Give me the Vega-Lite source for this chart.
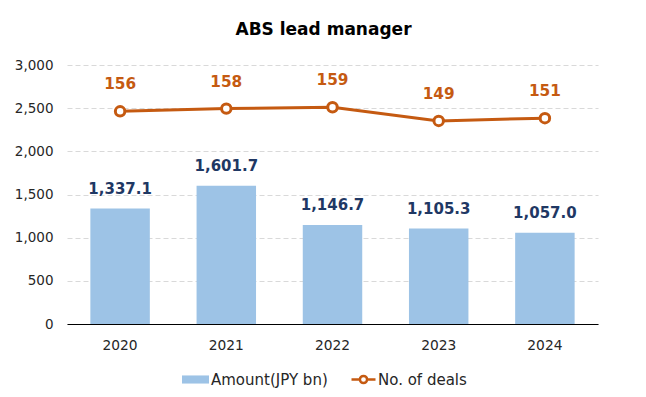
{
  "$schema": "https://vega.github.io/schema/vega-lite/v6.json",
  "width": 531,
  "height": 259,
  "autosize": "none",
  "padding": {"left": 67, "top": 65, "right": 48, "bottom": 73},
  "background": "white",
  "title": {"text": "ABS lead manager", "fontSize": 17, "fontWeight": "bold", "font": "DejaVu Sans", "color": "#000000", "offset": 19, "dx": -9},
  "config": {
    "view": {"stroke": null},
    "font": "DejaVu Sans"
  },
  "data": {
    "values": [
      {"year": "2020", "amount": 1337.1, "deals": 156},
      {"year": "2021", "amount": 1601.7, "deals": 158},
      {"year": "2022", "amount": 1146.7, "deals": 159},
      {"year": "2023", "amount": 1105.3, "deals": 149},
      {"year": "2024", "amount": 1057.0, "deals": 151}
    ]
  },
  "encoding": {
    "x": {
      "field": "year", "type": "ordinal",
      "scale": {"paddingInner": 0.44, "paddingOuter": 0.22},
      "axis": {"title": null, "labelAngle": 0, "ticks": false, "domainColor": "#000000", "domainWidth": 1.2, "labelFontSize": 13.8, "labelColor": "#262626", "labelPadding": 14, "grid": false}
    }
  },
  "layer": [
    {
      "layer": [
        {
          "mark": {"type": "bar", "color": "#9DC3E6"},
          "encoding": {
            "y": {"field": "amount", "type": "quantitative", "scale": {"domain": [0, 3000]},
              "axis": {"title": null, "values": [0, 500, 1000, 1500, 2000, 2500, 3000], "labelOverlap": false, "format": ",d", "domain": false, "ticks": false, "labelPadding": 14, "labelFontSize": 13.5, "labelColor": "#262626", "gridColor": "#D9D9D9", "gridDash": [5, 3], "gridWidth": 1}},
            "fill": {"datum": "Amount(JPY bn)", "type": "nominal", "scale": {"range": ["#9DC3E6"]},
              "legend": {"title": null, "orient": "none", "legendX": 115, "legendY": 301, "symbolType": "M-1,-0.3L1,-0.3L1,0.3L-1,0.3Z", "symbolSize": 729, "symbolStrokeWidth": 0, "labelFontSize": 15, "labelColor": "#262626", "labelOffset": 2}}
          }
        },
        {
          "mark": {"type": "text", "baseline": "bottom", "dy": -12, "fontSize": 15, "fontWeight": "bold", "color": "#1F3864"},
          "encoding": {
            "y": {"field": "amount", "type": "quantitative", "scale": {"domain": [0, 3000]},
              "axis": {"title": null, "values": [0, 500, 1000, 1500, 2000, 2500, 3000], "labelOverlap": false, "format": ",d", "domain": false, "ticks": false, "labelPadding": 14, "labelFontSize": 13.5, "labelColor": "#262626", "gridColor": "#D9D9D9", "gridDash": [5, 3], "gridWidth": 1}},
            "text": {"field": "amount", "type": "quantitative", "format": ",.1f"}
          }
        }
      ]
    },
    {
      "layer": [
        {
          "mark": {"type": "line", "color": "#C55A11", "strokeWidth": 3},
          "encoding": {
            "y": {"field": "deals", "type": "quantitative", "scale": {"domain": [0, 190]}, "axis": null},
            "stroke": {"datum": "No. of deals", "type": "nominal", "scale": {"range": ["#C55A11"]},
              "legend": {"title": null, "orient": "none", "legendX": 283, "legendY": 301, "symbolType": "M-1,0L-0.3,0M0.3,0L1,0M-0.3,0A0.3,0.3 0 1,1 0.3,0A0.3,0.3 0 1,1 -0.3,0", "symbolSize": 576, "symbolStrokeWidth": 2.5, "symbolFillColor": "white", "labelFontSize": 15, "labelColor": "#262626", "labelOffset": 1}}
          }
        },
        {
          "mark": {"type": "point", "shape": "circle", "filled": true, "fill": "white", "stroke": "#C55A11", "strokeWidth": 3, "size": 90, "opacity": 1},
          "encoding": {
            "y": {"field": "deals", "type": "quantitative", "scale": {"domain": [0, 190]}, "axis": null}
          }
        },
        {
          "mark": {"type": "text", "baseline": "bottom", "dy": -19, "fontSize": 15.3, "fontWeight": "bold", "color": "#C55A11"},
          "encoding": {
            "y": {"field": "deals", "type": "quantitative", "scale": {"domain": [0, 190]}, "axis": null},
            "text": {"field": "deals", "type": "quantitative"}
          }
        }
      ]
    }
  ],
  "resolve": {"scale": {"y": "independent"}}
}
